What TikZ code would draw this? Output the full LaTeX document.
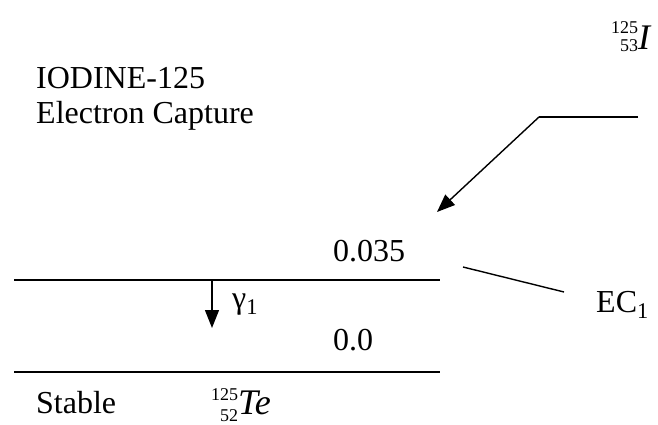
\documentclass[tikz,border=0pt]{standalone}
\usepackage{fontspec}
\setmainfont{Liberation Serif}
\usetikzlibrary{arrows.meta}
% #1 mass, #2 atomic number, #3 symbol, #4 drop of lower number, #5 gap between rows
\newcommand\nucl[5]{\raisebox{-#4}{\fontsize{18}{18}\selectfont\begin{tabular}[b]{@{}r@{}}#1\\[#5]#2\end{tabular}}{\fontsize{36}{40}\selectfont\textit{#3}}}
\begin{document}
\begin{tikzpicture}[x=1pt,y=-1pt,
  txt/.style={inner sep=0pt,anchor=base west,font=\fontsize{32}{36}\selectfont},
  level/.style={line width=1.7pt},
  thin/.style={line width=1.4pt},
  tip/.style={-{Triangle[length=18pt,width=14pt]}}]
\useasboundingbox (0,0) rectangle (658,425);
\node[txt] (title1) at (36,89) {IODINE-125};
\node[txt] (title2) at (36,124) {Electron Capture};
\node[txt] (parent) at (611,50) {\nucl{125}{53}{I}{2pt}{0pt}};
\coordinate (p1) at (539,117);
\coordinate (p2) at (638,117);
\coordinate (ptip) at (437,212);
\draw[thin] (p2) -- (p1);
\draw[thin,tip] (p1) -- (ptip);
\node[txt] (e1) at (333,261) {0.035};
\coordinate (l1a) at (14,280);
\coordinate (l1b) at (440,280);
\draw[level] (l1a) -- (l1b);
\coordinate (g1) at (212,281);
\coordinate (g2) at (212,328);
\draw[thin,tip] (g1) -- (g2);
\node[txt] (gam) at (232,308) {γ\textsubscript{1}};
\node[txt] (e0) at (333,350) {0.0};
\coordinate (l2a) at (14,372);
\coordinate (l2b) at (440,372);
\draw[level] (l2a) -- (l2b);
\node[txt] (stable) at (36,413) {Stable};
\node[txt] (daughter) at (211,414) {\nucl{125}{52}{Te}{7pt}{3pt}};
\coordinate (ec1) at (463,267);
\coordinate (ec2) at (564,292);
\draw[thin] (ec1) -- (ec2);
\node[txt] (eclab) at (596,312) {EC\textsubscript{1}};
\end{tikzpicture}
\end{document}
